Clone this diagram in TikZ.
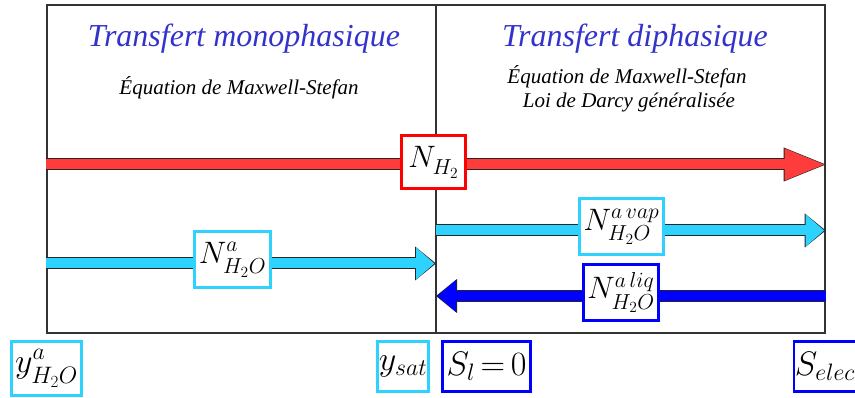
\RequirePackage{fix-cm}
\documentclass[tikz,border=0pt]{standalone}
\usepackage{fontspec}
\setmainfont{Liberation Serif}
\usetikzlibrary{arrows.meta,positioning}
\definecolor{rougeflux}{RGB}{255,60,60}
\definecolor{cyanflux}{RGB}{45,210,255}
\definecolor{bleuflux}{RGB}{0,0,255}
\definecolor{titrebleu}{RGB}{51,51,204}
\newcommand{\indbas}[1]{\raisebox{-3pt}{$\scriptstyle #1$}}

\begin{document}
\begin{tikzpicture}[
    x=1pt, y=-1pt,
    every node/.style={inner sep=0pt},
    titre/.style={anchor=base, text=titrebleu, font=\fontsize{32}{36}\selectfont\itshape},
    soustitre/.style={anchor=base, font=\fontsize{21}{24}\selectfont\itshape},
    etiq/.style={draw=#1, line width=2.6pt, fill=white, font=\fontsize{31}{36}\selectfont},
    borne/.style={draw=#1, line width=2.6pt, fill=white, font=\fontsize{34}{40}\selectfont},
    fluxlong/.style={line width=10pt, shorten >=1.6pt, -{Triangle[length=39.4pt, width=32pt, line width=0pt]},
        preaction={draw=black!85, line width=12pt, shorten >=0pt, -{Triangle[length=42pt, width=34pt, line width=0pt]}}},
    fluxcourt/.style={line width=10pt, shorten >=1.6pt, -{Triangle[length=18.4pt, width=32pt, line width=0pt]},
        preaction={draw=black!85, line width=12pt, shorten >=0pt, -{Triangle[length=21pt, width=34pt, line width=0pt]}}}
]
\useasboundingbox (0,0) rectangle (855,398);

% cadre et separation mono / diphasique
\node[draw=black!80, line width=1.4pt, minimum width=778pt, minimum height=328pt] (cadre) at (436,169) {};
\draw[black!80, line width=1.2pt] (cadre.north) -- (cadre.south);

\node[titre] (titremono) at (244,47) {Transfert monophasique};
\node[titre] (titrediph) at (635,47) {Transfert diphasique};
\node[soustitre] (eqmono) at (239,95) {Équation de Maxwell-Stefan};
\node[soustitre] (eqdiph) at (627,84) {Équation de Maxwell-Stefan};
\node[soustitre] (darcy) at (629,108) {Loi de Darcy généralisée};

% extremites des flux
\coordinate (rougeg) at (cadre.west |- 0,164.5);
\coordinate (rouged) at (cadre.east |- 0,164.5);
\coordinate (cyang) at (cadre.west |- 0,263.5);
\coordinate (cyanm) at (cadre.center |- 0,263.5);
\coordinate (vapm) at (cadre.center |- 0,230.5);
\coordinate (vapd) at (cadre.east |- 0,230.5);
\coordinate (liqd) at (cadre.east |- 0,296);
\coordinate (liqm) at (cadre.center |- 0,296);

\draw[fluxlong, draw=rougeflux] (rougeg) -- (rouged);
\draw[fluxcourt, draw=cyanflux] (cyang) -- (cyanm);
\draw[fluxcourt, draw=cyanflux] (vapm) -- (vapd);
\draw[fluxcourt, draw=bleuflux] (liqd) -- (liqm);

% etiquettes des flux
\node[etiq=red, minimum width=64pt, minimum height=53pt] (nh2) at (433.5,162) {$N_{\indbas{H_2}}$};
\node[etiq=cyanflux, minimum width=76pt, minimum height=56pt] (neau) at (232.5,259.5) {$N^{a}_{\indbas{H_2O}}$};
\node[etiq=cyanflux, minimum width=84pt, minimum height=56pt] (nvap) at (621.5,226.5) {$N^{a\,vap}_{\indbas{H_2O}}$};
\node[etiq=bleuflux, minimum width=75pt, minimum height=56pt] (nliq) at (621,292.5) {$N^{a\,liq}_{\indbas{H_2O}}$};

% conditions aux bornes
\node[borne=cyanflux, minimum width=70pt, minimum height=54pt] (ya) at (46.5,368.5) {$y^{a}_{\indbas{H_2O}}$};
\node[borne=cyanflux, minimum width=51pt, minimum height=50pt] (ysat) at (403,366.5) {$y_{sat}$};
\node[borne=bleuflux, minimum width=88pt, minimum height=50pt] (sl) at (486.5,366.5) {$S_l\,{=}\,0$};
\node[borne=bleuflux, minimum width=62pt, minimum height=50pt] (selec) at (825,366.5) {$S_{elec}$};
\end{tikzpicture}
\end{document}
